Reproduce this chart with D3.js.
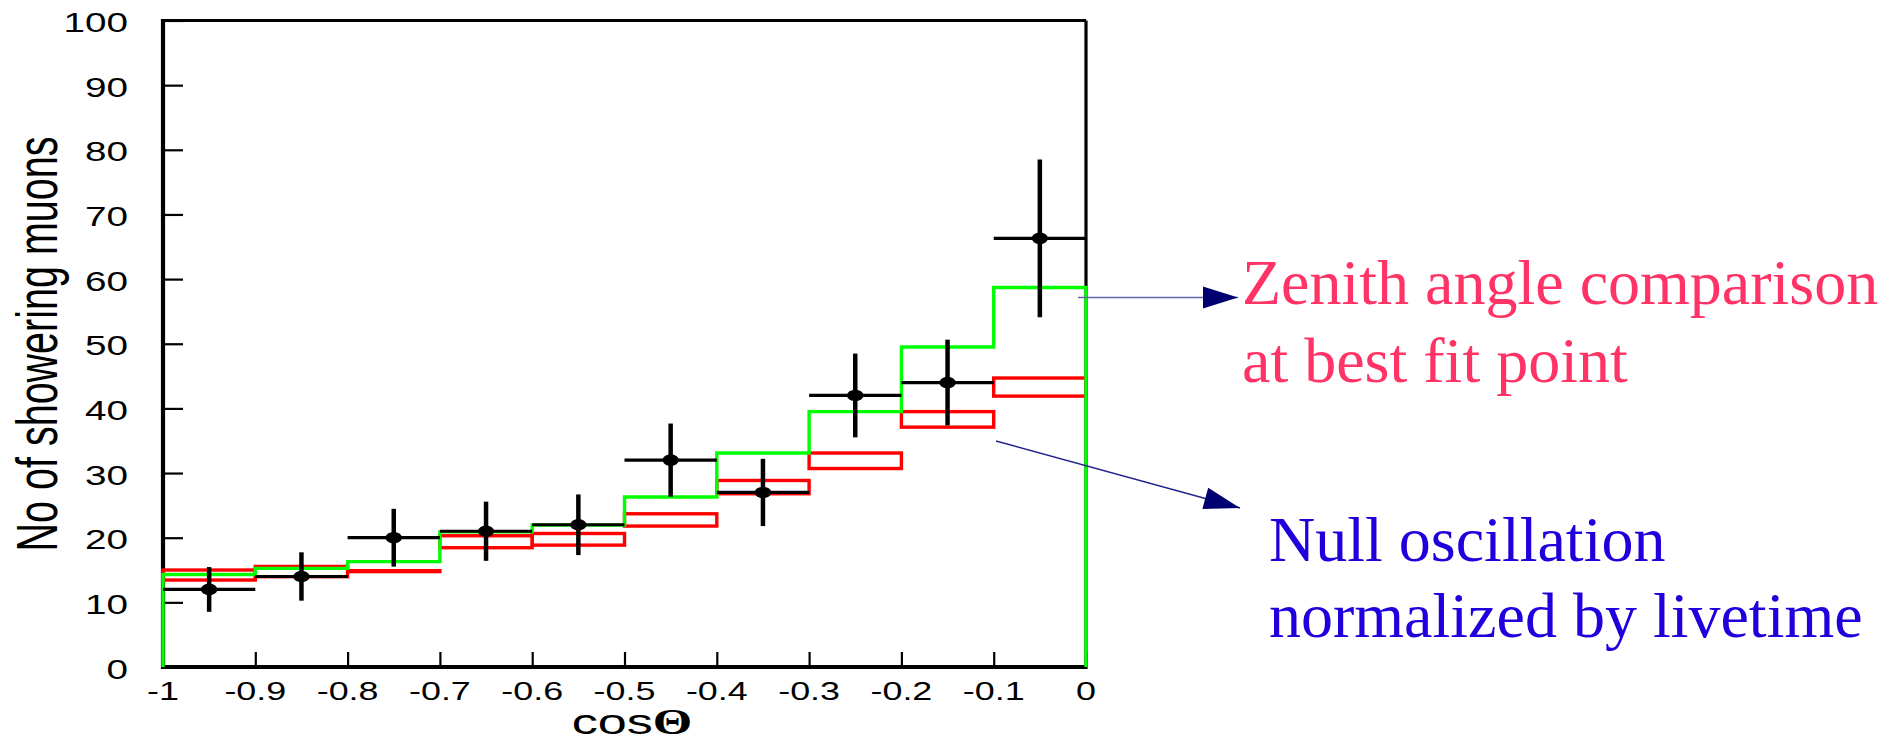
<!DOCTYPE html>
<html>
<head>
<meta charset="utf-8">
<script src="https://cdn.jsdelivr.net/npm/d3@7"></script>
<style>
  body { margin: 0; background: #fff; }
  svg { display: block; }
</style>
</head>
<body>
<svg id="chart" width="1900" height="741"></svg>
<script>
// bin edges in cos(theta)
let binEdges = [-1, -0.9, -0.8, -0.7, -0.6, -0.5, -0.4, -0.3, -0.2, -0.1, 0];
// observed showering muons + errors
let dataVals = [12, 14, 20, 21, 22, 32, 27, 42, 44, 66.3];
let dataErr = [3.46, 3.74, 4.47, 4.58, 4.69, 5.66, 5.2, 6.48, 6.63, 12.2];
// best fit expectation (green)
let bestFit = [14.3, 15.25, 16.3, 20.9, 21.95, 26.3, 33.1, 39.5, 49.5, 58.7];
// null oscillation band (red boxes)
let nullHi = [15.0, 15.55, 14.9, 20.3, 20.65, 23.7, 28.85, 33.1, 39.5, 44.7];
let nullLo = [13.45, 13.97, 14.75, 18.45, 18.85, 21.8, 26.8, 30.7, 37.1, 41.9];

let yTicks = [0, 10, 20, 30, 40, 50, 60, 70, 80, 90, 100];
let xTicks = [-1, -0.9, -0.8, -0.7, -0.6, -0.5, -0.4, -0.3, -0.2, -0.1, 0];

let sans = "'Liberation Sans', Arial, Helvetica, sans-serif";
let serif = "'Liberation Serif', 'Times New Roman', serif";
let stretch = 1.38; // plot text looks stretched horizontally

const svg = d3.select("#chart");
svg.append("rect").attr("width", 1900).attr("height", 741).attr("fill", "#fff");

const x = d3.scaleLinear().domain([-1, 0]).range([163, 1086]);
const y = d3.scaleLinear().domain([0, 100]).range([667, 20.5]);

let bins = dataVals.map((v, i) => ({
    x0: binEdges[i],
    x1: binEdges[i + 1],
    v: v,
    e: dataErr[i],
    fit: bestFit[i],
    hi: nullHi[i],
    lo: nullLo[i]
}));

// ticks (inside the frame)
const gy = svg.append("g").attr("transform", `translate(${x(-1)},0)`);
gy.call(d3.axisLeft(y).tickValues(d3.range(0, 101, 2)).tickSize(-9).tickFormat(""));
gy.call(d3.axisLeft(y).tickValues(yTicks).tickSize(-20).tickFormat(""));
const gx = svg.append("g").attr("transform", `translate(0,${y(0)})`);
gx.call(d3.axisBottom(x).tickValues(d3.range(0, 41).map(i => -1 + i * 0.025)).tickSize(-7.5).tickFormat(""));
gx.call(d3.axisBottom(x).tickValues(xTicks).tickSize(-15).tickFormat(""));
svg.selectAll(".domain").remove();
svg.selectAll(".tick line").attr("stroke", "#000").attr("stroke-width", 2.2);

// frame
svg.append("line").attr("x1", x(-1)).attr("x2", x(0)).attr("y1", y(100)).attr("y2", y(100))
    .attr("stroke", "#000").attr("stroke-width", 2.8);
svg.append("line").attr("x1", x(0)).attr("x2", x(0)).attr("y1", y(100)).attr("y2", y(0))
    .attr("stroke", "#000").attr("stroke-width", 3.2);
svg.append("line").attr("x1", x(-1)).attr("x2", x(-1)).attr("y1", y(100) - 1.4).attr("y2", y(0) + 2)
    .attr("stroke", "#000").attr("stroke-width", 4.2);
svg.append("line").attr("x1", x(-1) - 2).attr("x2", x(0) + 1.6).attr("y1", y(0)).attr("y2", y(0))
    .attr("stroke", "#000").attr("stroke-width", 4.2);

// tick labels
svg.append("g").selectAll("text").data(yTicks).join("text")
    .attr("transform", d => `translate(128,${y(d) + 11.5}) scale(${stretch},1)`)
    .attr("text-anchor", "end")
    .attr("font-family", sans).attr("font-size", 28)
    .text(d => d);
svg.append("g").selectAll("text").data(xTicks).join("text")
    .attr("transform", d => `translate(${x(d)},700) scale(${stretch},1)`)
    .attr("text-anchor", "middle")
    .attr("font-family", sans).attr("font-size", 26)
    .text(d => d);

// axis titles
svg.append("text")
    .attr("transform", `translate(57,344) scale(1.45,1) rotate(-90)`)
    .attr("text-anchor", "middle")
    .attr("font-family", sans).attr("font-size", 39.5)
    .text("No of showering muons");
let xt = svg.append("text")
    .attr("transform", `translate(632,734) scale(1.45,1)`)
    .attr("text-anchor", "middle")
    .attr("font-family", sans).attr("font-size", 36);
xt.append("tspan").text("cos");
xt.append("tspan").attr("font-family", serif).attr("font-weight", "bold").attr("font-size", 35).text("Θ");

// null oscillation boxes
svg.append("g").selectAll("rect").data(bins).join("rect")
    .attr("x", d => x(d.x0))
    .attr("y", d => y(d.hi))
    .attr("width", d => x(d.x1) - x(d.x0))
    .attr("height", d => y(d.lo) - y(d.hi))
    .attr("fill", "none")
    .attr("stroke", "#ff0000")
    .attr("stroke-width", 3.4);

// best fit step histogram
let stepPts = [[-1, 0]];
bins.forEach(d => {
    stepPts.push([d.x0, d.fit]);
    stepPts.push([d.x1, d.fit]);
});
stepPts.push([0, 0]);
svg.append("path")
    .attr("d", d3.line().x(d => x(d[0])).y(d => y(d[1]))(stepPts))
    .attr("fill", "none")
    .attr("stroke", "#00ff00")
    .attr("stroke-width", 3.4);

// data points with errors
const gd = svg.append("g");
gd.selectAll(".hbar").data(bins).join("line")
    .attr("x1", d => x(d.x0)).attr("x2", d => x(d.x1))
    .attr("y1", d => y(d.v)).attr("y2", d => y(d.v))
    .attr("stroke", "#000").attr("stroke-width", 3.2);
gd.selectAll(".vbar").data(bins).join("line")
    .attr("x1", d => x((d.x0 + d.x1) / 2)).attr("x2", d => x((d.x0 + d.x1) / 2))
    .attr("y1", d => y(d.v - d.e)).attr("y2", d => y(d.v + d.e))
    .attr("stroke", "#000").attr("stroke-width", 4.5);
gd.selectAll("ellipse").data(bins).join("ellipse")
    .attr("cx", d => x((d.x0 + d.x1) / 2))
    .attr("cy", d => y(d.v))
    .attr("rx", 8.2).attr("ry", 5.8)
    .attr("fill", "#000");

// annotations
function arrow(x1, y1, x2, y2, len, half, lineColor, lw) {
    svg.append("line").attr("x1", x1).attr("y1", y1).attr("x2", x2).attr("y2", y2)
        .attr("stroke", lineColor).attr("stroke-width", lw);
    let L = Math.hypot(x2 - x1, y2 - y1);
    let ux = (x2 - x1) / L, uy = (y2 - y1) / L;
    let bx = x2 - ux * len, by = y2 - uy * len;
    let pts = [[x2, y2], [bx - uy * half, by + ux * half], [bx + uy * half, by - ux * half]];
    svg.append("polygon").attr("points", pts.map(p => p.join(",")).join(" "))
        .attr("fill", "#000070");
}
arrow(1078, 297.5, 1238, 297.5, 35, 11, "#6464aa", 1.6);
arrow(996, 441, 1240, 508, 36, 11, "#22228c", 1.3);

let notes = [
    {t: "Zenith angle comparison", x: 1242, y: 304, c: "#ff3366"},
    {t: "at best fit point", x: 1242, y: 382, c: "#ff3366"},
    {t: "Null oscillation", x: 1269, y: 561, c: "#1f00dc"},
    {t: "normalized by livetime", x: 1269, y: 637, c: "#1f00dc"}
];
svg.append("g").selectAll("text").data(notes).join("text")
    .attr("x", d => d.x).attr("y", d => d.y)
    .attr("font-family", serif).attr("font-size", 64)
    .attr("fill", d => d.c)
    .text(d => d.t);
</script>
</body>
</html>
